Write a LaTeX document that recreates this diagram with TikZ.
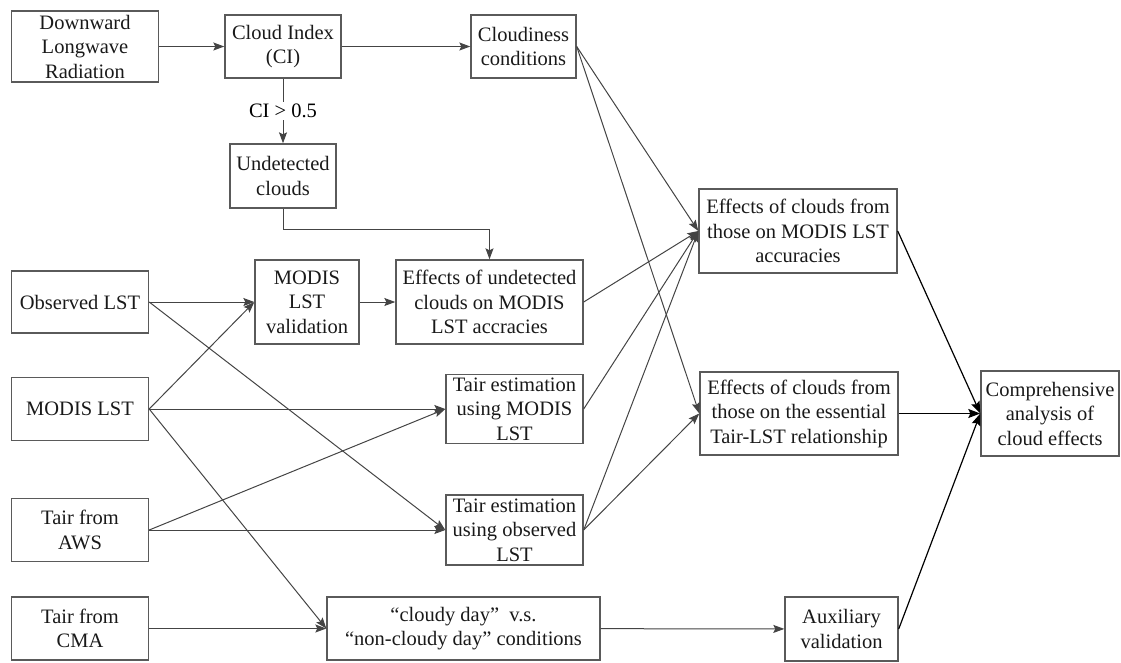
\documentclass[tikz,border=0pt]{standalone}
\usepackage{fontspec}
\setmainfont{Liberation Serif}
\usetikzlibrary{arrows.meta}
\definecolor{boxgray}{HTML}{5A5A5A}
\definecolor{linegray}{HTML}{444444}

\begin{document}
\begin{tikzpicture}[x=1pt,y=-1pt,
  box/.style={draw=boxgray,line width=1.4pt,align=center,inner sep=1pt,
    text=black!90,font=\fontsize{20.5}{24.5}\selectfont},
  arr/.style={draw=linegray,line width=1pt,-{Stealth[length=11pt,width=8pt,inset=2pt]}},
  arrk/.style={draw=black,line width=1.2pt,-{Stealth[length=12pt,width=9pt,inset=2pt]}}]
  \useasboundingbox (0,0) rectangle (1121,662);
  % input data
  \node[box,minimum width=147,minimum height=71] (dlr) at (85,46.5) {Downward\\Longwave\\Radiation};
  \node[box,minimum width=137,minimum height=62] (obs) at (80,302) {Observed LST};
  \node[box,minimum width=137,minimum height=63] (modis) at (80,409) {MODIS LST};
  \node[box,minimum width=137,minimum height=63] (aws) at (80,530) {Tair from\\AWS};
  \node[box,minimum width=137,minimum height=63] (cma) at (80,628.5) {Tair from\\CMA};
  % cloud index branch
  \node[box,minimum width=116,minimum height=63] (ci) at (283,46.5) {Cloud Index\\(CI)};
  \node[box,minimum width=105,minimum height=63] (cond) at (523.5,46.5) {Cloudiness\\conditions};
  \node[box,minimum width=106,minimum height=64] (und) at (283,176) {Undetected\\clouds};
  % middle column
  \node[box,minimum width=104,minimum height=84] (val) at (307,302) {MODIS\\LST\\validation};
  \node[box,minimum width=187,minimum height=84] (effu) at (489.5,302) {Effects of undetected\\clouds on MODIS\\LST accracies};
  \node[box,minimum width=137,minimum height=69] (tm) at (514.5,409) {Tair estimation\\using MODIS\\LST};
  \node[box,minimum width=137,minimum height=70] (to) at (514.5,530) {Tair estimation\\using observed\\LST};
  \node[box,minimum width=273,minimum height=63] (cd) at (463.5,628.5) {“cloudy day”\ \ v.s.\\“non-cloudy day” conditions};
  % effects
  \node[box,minimum width=198,minimum height=84] (effm) at (798,231) {Effects of clouds from\\those on MODIS LST\\accuracies};
  \node[box,minimum width=198,minimum height=83] (efft) at (799,413.5) {Effects of clouds from\\those on the essential\\Tair-LST relationship};
  \node[box,minimum width=113,minimum height=64] (aux) at (841.5,629) {Auxiliary\\validation};
  \node[box,minimum width=138,minimum height=85] (comp) at (1050,413.5) {Comprehensive\\analysis of\\cloud effects};

  \draw[arr] (dlr) -- (ci);
  \draw[arr] (ci) -- (cond);
  \draw[arr] (ci) -- node[fill=white,inner sep=2pt,font=\fontsize{20.5}{24.5}\selectfont]{CI > 0.5} (und);
  \draw[arr] (und.south) -- ++(0,21) -| (effu.north);
  \draw[arr] (obs) -- (val);
  \draw[arr] (modis.east) -- (val.west);
  \draw[arr] (val) -- (effu);
  \draw[arr] (modis) -- (tm);
  \draw[arr] (obs.east) -- (to.west);
  \draw[arr] (aws.east) -- (tm.west);
  \draw[arr] (aws) -- (to);
  \draw[arr] (modis.east) -- (cd.west);
  \draw[arr] (cma) -- (cd);
  \draw[arr] (cd) -- (aux);
  \draw[arr] (cond.east) -- (effm.west);
  \draw[arr] (cond.east) -- (efft.west);
  \draw[arr] (effu.east) -- (effm.west);
  \draw[arr] (tm.east) -- (effm.west);
  \draw[arr] (to.east) -- (effm.west);
  \draw[arr] (to.east) -- (efft.west);
  \draw[arrk] (effm.east) -- (comp.west);
  \draw[arrk] (efft) -- (comp);
  \draw[arrk] (aux.east) -- (comp.west);
\end{tikzpicture}
\end{document}
